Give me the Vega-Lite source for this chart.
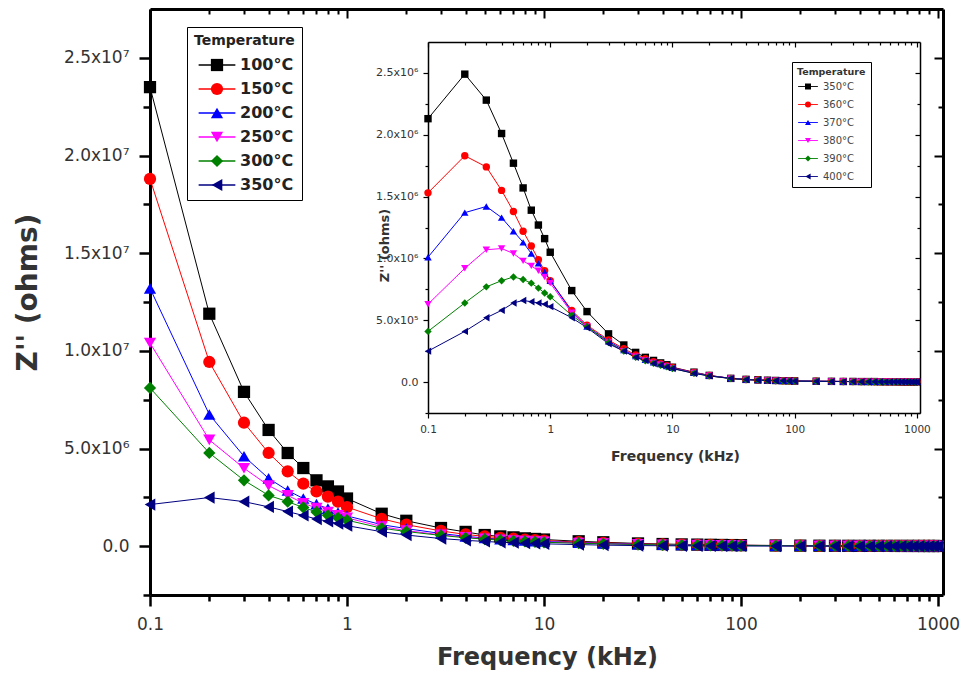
{
"$schema": "https://vega.github.io/schema/vega-lite/v6.json",
"width": 793, "height": 586,
"autosize": {"type": "none"},
"padding": {"left": 150, "top": 9, "right": 20, "bottom": 82},
"background": "white",
"config": {"view": {"stroke": null}, "font": "DejaVu Sans",
  "axis": {"grid": false, "domainColor": "#000", "tickColor": "#000", "labelFont": "DejaVu Sans", "titleFont": "DejaVu Sans", "labelColor": "#333", "titleColor": "#333", "labelOverlap": false, "labelFlush": false}},
"datasets": {
"m": [
{"t":"100°C","f":0.1,"z":23500000},{"t":"100°C","f":0.2,"z":11900000},{"t":"100°C","f":0.3,"z":7900000},{"t":"100°C","f":0.4,"z":5950000},{"t":"100°C","f":0.5,"z":4770000},{"t":"100°C","f":0.6,"z":4000000},{"t":"100°C","f":0.7,"z":3370000},{"t":"100°C","f":0.8,"z":3060000},{"t":"100°C","f":0.9,"z":2800000},{"t":"100°C","f":1,"z":2440000},
{"t":"100°C","f":1.5,"z":1660000},{"t":"100°C","f":2,"z":1300000},{"t":"100°C","f":3,"z":930000},{"t":"100°C","f":4,"z":730000},{"t":"100°C","f":5,"z":570000},{"t":"100°C","f":6,"z":500000},{"t":"100°C","f":7,"z":450000},{"t":"100°C","f":8,"z":400000},{"t":"100°C","f":9,"z":370000},{"t":"100°C","f":10,"z":340000},
{"t":"100°C","f":15,"z":250000},{"t":"100°C","f":20,"z":200000},{"t":"100°C","f":30,"z":140000},{"t":"100°C","f":40,"z":110000},{"t":"100°C","f":50,"z":90000},{"t":"100°C","f":60,"z":80000},{"t":"100°C","f":70,"z":70000},{"t":"100°C","f":80,"z":62000},{"t":"100°C","f":90,"z":56000},{"t":"100°C","f":100,"z":50000},
{"t":"100°C","f":150,"z":35000},{"t":"100°C","f":200,"z":28000},{"t":"100°C","f":250,"z":24000},{"t":"100°C","f":300,"z":21000},{"t":"100°C","f":350,"z":19000},{"t":"100°C","f":400,"z":17000},{"t":"100°C","f":450,"z":16000},{"t":"100°C","f":500,"z":15000},{"t":"100°C","f":550,"z":14000},{"t":"100°C","f":600,"z":13000},{"t":"100°C","f":650,"z":12000},{"t":"100°C","f":700,"z":12000},{"t":"100°C","f":750,"z":11000},{"t":"100°C","f":800,"z":11000},{"t":"100°C","f":850,"z":10000},{"t":"100°C","f":900,"z":10000},{"t":"100°C","f":950,"z":10000},{"t":"100°C","f":1000,"z":9000},
{"t":"150°C","f":0.1,"z":18800000},{"t":"150°C","f":0.2,"z":9430000},{"t":"150°C","f":0.3,"z":6320000},{"t":"150°C","f":0.4,"z":4770000},{"t":"150°C","f":0.5,"z":3830000},{"t":"150°C","f":0.6,"z":3200000},{"t":"150°C","f":0.7,"z":2800000},{"t":"150°C","f":0.8,"z":2540000},{"t":"150°C","f":0.9,"z":2280000},{"t":"150°C","f":1,"z":2000000},
{"t":"150°C","f":1.5,"z":1400000},{"t":"150°C","f":2,"z":1100000},{"t":"150°C","f":3,"z":780000},{"t":"150°C","f":4,"z":600000},{"t":"150°C","f":5,"z":500000},{"t":"150°C","f":6,"z":430000},{"t":"150°C","f":7,"z":380000},{"t":"150°C","f":8,"z":340000},{"t":"150°C","f":9,"z":310000},{"t":"150°C","f":10,"z":290000},
{"t":"150°C","f":15,"z":210000},{"t":"150°C","f":20,"z":170000},{"t":"150°C","f":30,"z":120000},{"t":"150°C","f":40,"z":95000},{"t":"150°C","f":50,"z":80000},{"t":"150°C","f":60,"z":70000},{"t":"150°C","f":70,"z":62000},{"t":"150°C","f":80,"z":55000},{"t":"150°C","f":90,"z":50000},{"t":"150°C","f":100,"z":45000},
{"t":"150°C","f":150,"z":32000},{"t":"150°C","f":200,"z":25000},{"t":"150°C","f":250,"z":21000},{"t":"150°C","f":300,"z":19000},{"t":"150°C","f":350,"z":17000},{"t":"150°C","f":400,"z":15000},{"t":"150°C","f":450,"z":14000},{"t":"150°C","f":500,"z":13000},{"t":"150°C","f":550,"z":12000},{"t":"150°C","f":600,"z":12000},{"t":"150°C","f":650,"z":11000},{"t":"150°C","f":700,"z":11000},{"t":"150°C","f":750,"z":10000},{"t":"150°C","f":800,"z":10000},{"t":"150°C","f":850,"z":9000},{"t":"150°C","f":900,"z":9000},{"t":"150°C","f":950,"z":9000},{"t":"150°C","f":1000,"z":8000},
{"t":"200°C","f":0.1,"z":13200000},{"t":"200°C","f":0.2,"z":6740000},{"t":"200°C","f":0.3,"z":4600000},{"t":"200°C","f":0.4,"z":3470000},{"t":"200°C","f":0.5,"z":2850000},{"t":"200°C","f":0.6,"z":2440000},{"t":"200°C","f":0.7,"z":2150000},{"t":"200°C","f":0.8,"z":1920000},{"t":"200°C","f":0.9,"z":1720000},{"t":"200°C","f":1,"z":1550000},
{"t":"200°C","f":1.5,"z":1100000},{"t":"200°C","f":2,"z":900000},{"t":"200°C","f":3,"z":650000},{"t":"200°C","f":4,"z":500000},{"t":"200°C","f":5,"z":420000},{"t":"200°C","f":6,"z":360000},{"t":"200°C","f":7,"z":320000},{"t":"200°C","f":8,"z":290000},{"t":"200°C","f":9,"z":260000},{"t":"200°C","f":10,"z":240000},
{"t":"200°C","f":15,"z":180000},{"t":"200°C","f":20,"z":140000},{"t":"200°C","f":30,"z":100000},{"t":"200°C","f":40,"z":80000},{"t":"200°C","f":50,"z":68000},{"t":"200°C","f":60,"z":60000},{"t":"200°C","f":70,"z":53000},{"t":"200°C","f":80,"z":48000},{"t":"200°C","f":90,"z":44000},{"t":"200°C","f":100,"z":40000},
{"t":"200°C","f":150,"z":29000},{"t":"200°C","f":200,"z":23000},{"t":"200°C","f":250,"z":19000},{"t":"200°C","f":300,"z":17000},{"t":"200°C","f":350,"z":15000},{"t":"200°C","f":400,"z":14000},{"t":"200°C","f":450,"z":13000},{"t":"200°C","f":500,"z":12000},{"t":"200°C","f":550,"z":11000},{"t":"200°C","f":600,"z":11000},{"t":"200°C","f":650,"z":10000},{"t":"200°C","f":700,"z":10000},{"t":"200°C","f":750,"z":9000},{"t":"200°C","f":800,"z":9000},{"t":"200°C","f":850,"z":9000},{"t":"200°C","f":900,"z":8000},{"t":"200°C","f":950,"z":8000},{"t":"200°C","f":1000,"z":8000},
{"t":"250°C","f":0.1,"z":10400000},{"t":"250°C","f":0.2,"z":5440000},{"t":"250°C","f":0.3,"z":3990000},{"t":"250°C","f":0.4,"z":3100000},{"t":"250°C","f":0.5,"z":2600000},{"t":"250°C","f":0.6,"z":2200000},{"t":"250°C","f":0.7,"z":1950000},{"t":"250°C","f":0.8,"z":1750000},{"t":"250°C","f":0.9,"z":1580000},{"t":"250°C","f":1,"z":1450000},
{"t":"250°C","f":1.5,"z":1000000},{"t":"250°C","f":2,"z":800000},{"t":"250°C","f":3,"z":580000},{"t":"250°C","f":4,"z":460000},{"t":"250°C","f":5,"z":380000},{"t":"250°C","f":6,"z":330000},{"t":"250°C","f":7,"z":290000},{"t":"250°C","f":8,"z":260000},{"t":"250°C","f":9,"z":240000},{"t":"250°C","f":10,"z":220000},
{"t":"250°C","f":15,"z":160000},{"t":"250°C","f":20,"z":130000},{"t":"250°C","f":30,"z":90000},{"t":"250°C","f":40,"z":72000},{"t":"250°C","f":50,"z":60000},{"t":"250°C","f":60,"z":53000},{"t":"250°C","f":70,"z":47000},{"t":"250°C","f":80,"z":43000},{"t":"250°C","f":90,"z":39000},{"t":"250°C","f":100,"z":36000},
{"t":"250°C","f":150,"z":26000},{"t":"250°C","f":200,"z":21000},{"t":"250°C","f":250,"z":18000},{"t":"250°C","f":300,"z":16000},{"t":"250°C","f":350,"z":14000},{"t":"250°C","f":400,"z":13000},{"t":"250°C","f":450,"z":12000},{"t":"250°C","f":500,"z":11000},{"t":"250°C","f":550,"z":11000},{"t":"250°C","f":600,"z":10000},{"t":"250°C","f":650,"z":10000},{"t":"250°C","f":700,"z":9000},{"t":"250°C","f":750,"z":9000},{"t":"250°C","f":800,"z":9000},{"t":"250°C","f":850,"z":8000},{"t":"250°C","f":900,"z":8000},{"t":"250°C","f":950,"z":8000},{"t":"250°C","f":1000,"z":7000},
{"t":"300°C","f":0.1,"z":8100000},{"t":"300°C","f":0.2,"z":4770000},{"t":"300°C","f":0.3,"z":3370000},{"t":"300°C","f":0.4,"z":2600000},{"t":"300°C","f":0.5,"z":2280000},{"t":"300°C","f":0.6,"z":1980000},{"t":"300°C","f":0.7,"z":1750000},{"t":"300°C","f":0.8,"z":1580000},{"t":"300°C","f":0.9,"z":1450000},{"t":"300°C","f":1,"z":1330000},
{"t":"300°C","f":1.5,"z":920000},{"t":"300°C","f":2,"z":750000},{"t":"300°C","f":3,"z":550000},{"t":"300°C","f":4,"z":430000},{"t":"300°C","f":5,"z":360000},{"t":"300°C","f":6,"z":310000},{"t":"300°C","f":7,"z":270000},{"t":"300°C","f":8,"z":240000},{"t":"300°C","f":9,"z":220000},{"t":"300°C","f":10,"z":200000},
{"t":"300°C","f":15,"z":150000},{"t":"300°C","f":20,"z":120000},{"t":"300°C","f":30,"z":85000},{"t":"300°C","f":40,"z":68000},{"t":"300°C","f":50,"z":57000},{"t":"300°C","f":60,"z":50000},{"t":"300°C","f":70,"z":45000},{"t":"300°C","f":80,"z":41000},{"t":"300°C","f":90,"z":37000},{"t":"300°C","f":100,"z":34000},
{"t":"300°C","f":150,"z":25000},{"t":"300°C","f":200,"z":20000},{"t":"300°C","f":250,"z":17000},{"t":"300°C","f":300,"z":15000},{"t":"300°C","f":350,"z":14000},{"t":"300°C","f":400,"z":13000},{"t":"300°C","f":450,"z":12000},{"t":"300°C","f":500,"z":11000},{"t":"300°C","f":550,"z":10000},{"t":"300°C","f":600,"z":10000},{"t":"300°C","f":650,"z":9000},{"t":"300°C","f":700,"z":9000},{"t":"300°C","f":750,"z":9000},{"t":"300°C","f":800,"z":8000},{"t":"300°C","f":850,"z":8000},{"t":"300°C","f":900,"z":8000},{"t":"300°C","f":950,"z":7000},{"t":"300°C","f":1000,"z":7000},
{"t":"350°C","f":0.1,"z":2130000},{"t":"350°C","f":0.2,"z":2490000},{"t":"350°C","f":0.3,"z":2280000},{"t":"350°C","f":0.4,"z":2010000},{"t":"350°C","f":0.5,"z":1770000},{"t":"350°C","f":0.6,"z":1570000},{"t":"350°C","f":0.7,"z":1390000},{"t":"350°C","f":0.8,"z":1270000},{"t":"350°C","f":0.9,"z":1160000},{"t":"350°C","f":1,"z":1050000},
{"t":"350°C","f":1.5,"z":740000},{"t":"350°C","f":2,"z":570000},{"t":"350°C","f":3,"z":390000},{"t":"350°C","f":4,"z":300000},{"t":"350°C","f":5,"z":240000},{"t":"350°C","f":6,"z":200000},{"t":"350°C","f":7,"z":175000},{"t":"350°C","f":8,"z":155000},{"t":"350°C","f":9,"z":140000},{"t":"350°C","f":10,"z":120000},
{"t":"350°C","f":15,"z":80000},{"t":"350°C","f":20,"z":54000},{"t":"350°C","f":30,"z":30000},{"t":"350°C","f":40,"z":22000},{"t":"350°C","f":50,"z":18000},{"t":"350°C","f":60,"z":15000},{"t":"350°C","f":70,"z":13000},{"t":"350°C","f":80,"z":11000},{"t":"350°C","f":90,"z":10000},{"t":"350°C","f":100,"z":9000},
{"t":"350°C","f":150,"z":7000},{"t":"350°C","f":200,"z":6000},{"t":"350°C","f":250,"z":5000},{"t":"350°C","f":300,"z":5000},{"t":"350°C","f":350,"z":4000},{"t":"350°C","f":400,"z":4000},{"t":"350°C","f":450,"z":4000},{"t":"350°C","f":500,"z":3000},{"t":"350°C","f":550,"z":3000},{"t":"350°C","f":600,"z":3000},{"t":"350°C","f":650,"z":3000},{"t":"350°C","f":700,"z":3000},{"t":"350°C","f":750,"z":2000},{"t":"350°C","f":800,"z":2000},{"t":"350°C","f":850,"z":2000},{"t":"350°C","f":900,"z":2000},{"t":"350°C","f":950,"z":2000},{"t":"350°C","f":1000,"z":2000}
],
"n": [
{"t":"350°C","f":0.1,"z":2130000},{"t":"350°C","f":0.2,"z":2490000},{"t":"350°C","f":0.3,"z":2280000},{"t":"350°C","f":0.4,"z":2010000},{"t":"350°C","f":0.5,"z":1770000},{"t":"350°C","f":0.6,"z":1570000},{"t":"350°C","f":0.7,"z":1390000},{"t":"350°C","f":0.8,"z":1270000},{"t":"350°C","f":0.9,"z":1160000},{"t":"350°C","f":1,"z":1050000},
{"t":"350°C","f":1.5,"z":740000},{"t":"350°C","f":2,"z":570000},{"t":"350°C","f":3,"z":390000},{"t":"350°C","f":4,"z":300000},{"t":"350°C","f":5,"z":240000},{"t":"350°C","f":6,"z":200000},{"t":"350°C","f":7,"z":175000},{"t":"350°C","f":8,"z":155000},{"t":"350°C","f":9,"z":140000},{"t":"350°C","f":10,"z":120000},
{"t":"350°C","f":15,"z":80000},{"t":"350°C","f":20,"z":54000},{"t":"350°C","f":30,"z":30000},{"t":"350°C","f":40,"z":22000},{"t":"350°C","f":50,"z":18000},{"t":"350°C","f":60,"z":15000},{"t":"350°C","f":70,"z":13000},{"t":"350°C","f":80,"z":11000},{"t":"350°C","f":90,"z":10000},{"t":"350°C","f":100,"z":9000},
{"t":"350°C","f":150,"z":7000},{"t":"350°C","f":200,"z":6000},{"t":"350°C","f":250,"z":5000},{"t":"350°C","f":300,"z":5000},{"t":"350°C","f":350,"z":4000},{"t":"350°C","f":400,"z":4000},{"t":"350°C","f":450,"z":4000},{"t":"350°C","f":500,"z":3000},{"t":"350°C","f":550,"z":3000},{"t":"350°C","f":600,"z":3000},{"t":"350°C","f":650,"z":3000},{"t":"350°C","f":700,"z":3000},{"t":"350°C","f":750,"z":2000},{"t":"350°C","f":800,"z":2000},{"t":"350°C","f":850,"z":2000},{"t":"350°C","f":900,"z":2000},{"t":"350°C","f":950,"z":2000},{"t":"350°C","f":1000,"z":2000},
{"t":"360°C","f":0.1,"z":1530000},{"t":"360°C","f":0.2,"z":1830000},{"t":"360°C","f":0.3,"z":1740000},{"t":"360°C","f":0.4,"z":1550000},{"t":"360°C","f":0.5,"z":1380000},{"t":"360°C","f":0.6,"z":1220000},{"t":"360°C","f":0.7,"z":1100000},{"t":"360°C","f":0.8,"z":990000},{"t":"360°C","f":0.9,"z":900000},{"t":"360°C","f":1,"z":820000},
{"t":"360°C","f":1.5,"z":580000},{"t":"360°C","f":2,"z":460000},{"t":"360°C","f":3,"z":340000},{"t":"360°C","f":4,"z":270000},{"t":"360°C","f":5,"z":220000},{"t":"360°C","f":6,"z":190000},{"t":"360°C","f":7,"z":165000},{"t":"360°C","f":8,"z":148000},{"t":"360°C","f":9,"z":133000},{"t":"360°C","f":10,"z":118000},
{"t":"360°C","f":15,"z":78000},{"t":"360°C","f":20,"z":53000},{"t":"360°C","f":30,"z":30000},{"t":"360°C","f":40,"z":21000},{"t":"360°C","f":50,"z":17000},{"t":"360°C","f":60,"z":14000},{"t":"360°C","f":70,"z":12000},{"t":"360°C","f":80,"z":11000},{"t":"360°C","f":90,"z":10000},{"t":"360°C","f":100,"z":9000},
{"t":"360°C","f":150,"z":7000},{"t":"360°C","f":200,"z":6000},{"t":"360°C","f":250,"z":5000},{"t":"360°C","f":300,"z":4000},{"t":"360°C","f":350,"z":4000},{"t":"360°C","f":400,"z":4000},{"t":"360°C","f":450,"z":3000},{"t":"360°C","f":500,"z":3000},{"t":"360°C","f":550,"z":3000},{"t":"360°C","f":600,"z":3000},{"t":"360°C","f":650,"z":3000},{"t":"360°C","f":700,"z":2000},{"t":"360°C","f":750,"z":2000},{"t":"360°C","f":800,"z":2000},{"t":"360°C","f":850,"z":2000},{"t":"360°C","f":900,"z":2000},{"t":"360°C","f":950,"z":2000},{"t":"360°C","f":1000,"z":2000},
{"t":"370°C","f":0.1,"z":1010000},{"t":"370°C","f":0.2,"z":1370000},{"t":"370°C","f":0.3,"z":1420000},{"t":"370°C","f":0.4,"z":1330000},{"t":"370°C","f":0.5,"z":1220000},{"t":"370°C","f":0.6,"z":1130000},{"t":"370°C","f":0.7,"z":1040000},{"t":"370°C","f":0.8,"z":960000},{"t":"370°C","f":0.9,"z":890000},{"t":"370°C","f":1,"z":820000},
{"t":"370°C","f":1.5,"z":570000},{"t":"370°C","f":2,"z":450000},{"t":"370°C","f":3,"z":330000},{"t":"370°C","f":4,"z":260000},{"t":"370°C","f":5,"z":210000},{"t":"370°C","f":6,"z":180000},{"t":"370°C","f":7,"z":160000},{"t":"370°C","f":8,"z":145000},{"t":"370°C","f":9,"z":130000},{"t":"370°C","f":10,"z":115000},
{"t":"370°C","f":15,"z":76000},{"t":"370°C","f":20,"z":52000},{"t":"370°C","f":30,"z":30000},{"t":"370°C","f":40,"z":21000},{"t":"370°C","f":50,"z":17000},{"t":"370°C","f":60,"z":14000},{"t":"370°C","f":70,"z":12000},{"t":"370°C","f":80,"z":11000},{"t":"370°C","f":90,"z":10000},{"t":"370°C","f":100,"z":9000},
{"t":"370°C","f":150,"z":7000},{"t":"370°C","f":200,"z":6000},{"t":"370°C","f":250,"z":5000},{"t":"370°C","f":300,"z":4000},{"t":"370°C","f":350,"z":4000},{"t":"370°C","f":400,"z":3000},{"t":"370°C","f":450,"z":3000},{"t":"370°C","f":500,"z":3000},{"t":"370°C","f":550,"z":3000},{"t":"370°C","f":600,"z":3000},{"t":"370°C","f":650,"z":2000},{"t":"370°C","f":700,"z":2000},{"t":"370°C","f":750,"z":2000},{"t":"370°C","f":800,"z":2000},{"t":"370°C","f":850,"z":2000},{"t":"370°C","f":900,"z":2000},{"t":"370°C","f":950,"z":2000},{"t":"370°C","f":1000,"z":2000},
{"t":"380°C","f":0.1,"z":630000},{"t":"380°C","f":0.2,"z":920000},{"t":"380°C","f":0.3,"z":1070000},{"t":"380°C","f":0.4,"z":1080000},{"t":"380°C","f":0.5,"z":1040000},{"t":"380°C","f":0.6,"z":980000},{"t":"380°C","f":0.7,"z":940000},{"t":"380°C","f":0.8,"z":900000},{"t":"380°C","f":0.9,"z":850000},{"t":"380°C","f":1,"z":800000},
{"t":"380°C","f":1.5,"z":560000},{"t":"380°C","f":2,"z":450000},{"t":"380°C","f":3,"z":320000},{"t":"380°C","f":4,"z":250000},{"t":"380°C","f":5,"z":205000},{"t":"380°C","f":6,"z":175000},{"t":"380°C","f":7,"z":155000},{"t":"380°C","f":8,"z":140000},{"t":"380°C","f":9,"z":127000},{"t":"380°C","f":10,"z":112000},
{"t":"380°C","f":15,"z":74000},{"t":"380°C","f":20,"z":51000},{"t":"380°C","f":30,"z":29000},{"t":"380°C","f":40,"z":20000},{"t":"380°C","f":50,"z":16000},{"t":"380°C","f":60,"z":14000},{"t":"380°C","f":70,"z":12000},{"t":"380°C","f":80,"z":10000},{"t":"380°C","f":90,"z":9000},{"t":"380°C","f":100,"z":8000},
{"t":"380°C","f":150,"z":6000},{"t":"380°C","f":200,"z":5000},{"t":"380°C","f":250,"z":5000},{"t":"380°C","f":300,"z":4000},{"t":"380°C","f":350,"z":4000},{"t":"380°C","f":400,"z":3000},{"t":"380°C","f":450,"z":3000},{"t":"380°C","f":500,"z":3000},{"t":"380°C","f":550,"z":3000},{"t":"380°C","f":600,"z":2000},{"t":"380°C","f":650,"z":2000},{"t":"380°C","f":700,"z":2000},{"t":"380°C","f":750,"z":2000},{"t":"380°C","f":800,"z":2000},{"t":"380°C","f":850,"z":2000},{"t":"380°C","f":900,"z":2000},{"t":"380°C","f":950,"z":2000},{"t":"380°C","f":1000,"z":1000},
{"t":"390°C","f":0.1,"z":410000},{"t":"390°C","f":0.2,"z":640000},{"t":"390°C","f":0.3,"z":770000},{"t":"390°C","f":0.4,"z":820000},{"t":"390°C","f":0.5,"z":850000},{"t":"390°C","f":0.6,"z":830000},{"t":"390°C","f":0.7,"z":800000},{"t":"390°C","f":0.8,"z":760000},{"t":"390°C","f":0.9,"z":720000},{"t":"390°C","f":1,"z":690000},
{"t":"390°C","f":1.5,"z":540000},{"t":"390°C","f":2,"z":450000},{"t":"390°C","f":3,"z":320000},{"t":"390°C","f":4,"z":250000},{"t":"390°C","f":5,"z":200000},{"t":"390°C","f":6,"z":172000},{"t":"390°C","f":7,"z":152000},{"t":"390°C","f":8,"z":136000},{"t":"390°C","f":9,"z":123000},{"t":"390°C","f":10,"z":110000},
{"t":"390°C","f":15,"z":72000},{"t":"390°C","f":20,"z":50000},{"t":"390°C","f":30,"z":28000},{"t":"390°C","f":40,"z":20000},{"t":"390°C","f":50,"z":16000},{"t":"390°C","f":60,"z":13000},{"t":"390°C","f":70,"z":11000},{"t":"390°C","f":80,"z":10000},{"t":"390°C","f":90,"z":9000},{"t":"390°C","f":100,"z":8000},
{"t":"390°C","f":150,"z":6000},{"t":"390°C","f":200,"z":5000},{"t":"390°C","f":250,"z":4000},{"t":"390°C","f":300,"z":4000},{"t":"390°C","f":350,"z":3000},{"t":"390°C","f":400,"z":3000},{"t":"390°C","f":450,"z":3000},{"t":"390°C","f":500,"z":3000},{"t":"390°C","f":550,"z":2000},{"t":"390°C","f":600,"z":2000},{"t":"390°C","f":650,"z":2000},{"t":"390°C","f":700,"z":2000},{"t":"390°C","f":750,"z":2000},{"t":"390°C","f":800,"z":2000},{"t":"390°C","f":850,"z":2000},{"t":"390°C","f":900,"z":1000},{"t":"390°C","f":950,"z":1000},{"t":"390°C","f":1000,"z":1000},
{"t":"400°C","f":0.1,"z":250000},{"t":"400°C","f":0.2,"z":410000},{"t":"400°C","f":0.3,"z":520000},{"t":"400°C","f":0.4,"z":580000},{"t":"400°C","f":0.5,"z":640000},{"t":"400°C","f":0.6,"z":660000},{"t":"400°C","f":0.7,"z":650000},{"t":"400°C","f":0.8,"z":640000},{"t":"400°C","f":0.9,"z":630000},{"t":"400°C","f":1,"z":610000},
{"t":"400°C","f":1.5,"z":520000},{"t":"400°C","f":2,"z":440000},{"t":"400°C","f":3,"z":310000},{"t":"400°C","f":4,"z":250000},{"t":"400°C","f":5,"z":200000},{"t":"400°C","f":6,"z":175000},{"t":"400°C","f":7,"z":150000},{"t":"400°C","f":8,"z":137000},{"t":"400°C","f":9,"z":122000},{"t":"400°C","f":10,"z":110000},
{"t":"400°C","f":15,"z":70000},{"t":"400°C","f":20,"z":50000},{"t":"400°C","f":30,"z":30000},{"t":"400°C","f":40,"z":20000},{"t":"400°C","f":50,"z":16000},{"t":"400°C","f":60,"z":13000},{"t":"400°C","f":70,"z":11000},{"t":"400°C","f":80,"z":10000},{"t":"400°C","f":90,"z":9000},{"t":"400°C","f":100,"z":8000},
{"t":"400°C","f":150,"z":6000},{"t":"400°C","f":200,"z":5000},{"t":"400°C","f":250,"z":4000},{"t":"400°C","f":300,"z":4000},{"t":"400°C","f":350,"z":3000},{"t":"400°C","f":400,"z":3000},{"t":"400°C","f":450,"z":3000},{"t":"400°C","f":500,"z":3000},{"t":"400°C","f":550,"z":2000},{"t":"400°C","f":600,"z":2000},{"t":"400°C","f":650,"z":2000},{"t":"400°C","f":700,"z":2000},{"t":"400°C","f":750,"z":2000},{"t":"400°C","f":800,"z":2000},{"t":"400°C","f":850,"z":1000},{"t":"400°C","f":900,"z":1000},{"t":"400°C","f":950,"z":1000},{"t":"400°C","f":1000,"z":1000}
]
},
"layer": [
{
  "data": {"name": "m"},
  "mark": {"type": "line", "strokeWidth": 1},
  "encoding": {
    "x": {"field": "f", "type": "quantitative", "scale": {"type": "log", "domain": [0.1, 1060], "nice": false},
      "axis": {"orient": "bottom", "values": [0.1,0.2,0.3,0.4,0.5,0.6,0.7,0.8,0.9,1,2,3,4,5,6,7,8,9,10,20,30,40,50,60,70,80,90,100,200,300,400,500,600,700,800,900,1000],
        "labelExpr": "indexof([0.1,1,10,100,1000], datum.value) >= 0 ? format(datum.value, '~g') : ''",
        "tickSize": {"condition": {"test": "indexof([0.1,1,10,100,1000], datum.value) >= 0", "value": 11}, "value": 6},
        "tickWidth": 2.5, "domainWidth": 3, "labelFontSize": 17, "labelPadding": 10,
        "title": "Frequency (kHz)", "titleFontSize": 24, "titleFontWeight": "bold", "titleX": 397, "titleY": 50, "titleBaseline": "top"}},
    "y": {"field": "z", "type": "quantitative", "scale": {"domain": [-2500000, 27500000], "nice": false, "zero": false},
      "axis": {"orient": "left", "values": [-2500000,0,2500000,5000000,7500000,10000000,12500000,15000000,17500000,20000000,22500000,25000000],
        "labelExpr": "datum.value == 0 ? '0.0' : datum.value % 5000000 != 0 ? '' : datum.value < 10000000 ? format(datum.value/1000000, '.1f') + 'x10⁶' : format(datum.value/10000000, '.1f') + 'x10⁷'",
        "tickSize": {"condition": {"test": "datum.value % 5000000 == 0", "value": 11}, "value": 7},
        "tickWidth": 2.5, "domainWidth": 3, "labelFontSize": 17, "labelPadding": 10,
        "title": "Z'' (ohms)", "titleFontSize": 28, "titleFontWeight": "bold", "titleX": -108, "titleY": 283}},
    "color": {"field": "t", "type": "nominal", "scale": {"domain": ["100°C","150°C","200°C","250°C","300°C","350°C"], "range": ["#000000","#FF0000","#0000FF","#FF00FF","#008000","#000080"]},
      "legend": {"title": "Temperature", "orient": "none", "legendX": 37, "legendY": 18, "direction": "vertical",
        "titleFontSize": 14, "titleFontWeight": "bold", "titleColor": "#222", "titlePadding": 9,
        "labelFontSize": 16, "labelFontWeight": "bold", "labelColor": "#222",
        "symbolType": "M-3,0H3", "symbolSize": 150, "symbolStrokeWidth": 1.3, "symbolOffset": 15, "labelOffset": 15, "rowPadding": 8, "padding": 7,
        "fillColor": "white", "strokeColor": "#000"}}
  }
},
{
  "data": {"name": "m"},
  "mark": {"type": "point", "filled": true, "opacity": 1, "size": 150, "strokeWidth": 0},
  "encoding": {
    "x": {"field": "f", "type": "quantitative", "scale": {"type": "log", "domain": [0.1, 1060], "nice": false},
      "axis": {"orient": "top", "values": [0.1,0.2,0.3,0.4,0.5,0.6,0.7,0.8,0.9,1,2,3,4,5,6,7,8,9,10,20,30,40,50,60,70,80,90,100,200,300,400,500,600,700,800,900,1000],
        "labels": false, "title": null, "tickSize": {"condition": {"test": "indexof([0.1,1,10,100,1000], datum.value) >= 0", "value": -9}, "value": -5}, "tickWidth": 2, "domainWidth": 3}},
    "y": {"field": "z", "type": "quantitative", "scale": {"domain": [-2500000, 27500000], "nice": false, "zero": false},
      "axis": {"orient": "right", "values": [2500000,5000000,7500000,10000000,12500000,15000000,17500000,20000000,22500000,25000000],
        "labels": false, "title": null, "tickSize": {"condition": {"test": "datum.value % 5000000 == 0", "value": -9}, "value": -5}, "tickWidth": 2, "domainWidth": 3}},
    "color": {"field": "t", "type": "nominal", "scale": {"domain": ["100°C","150°C","200°C","250°C","300°C","350°C"], "range": ["#000000","#FF0000","#0000FF","#FF00FF","#008000","#000080"]},
      "legend": {"title": "Temperature", "orient": "none", "legendX": 37, "legendY": 18, "direction": "vertical",
        "titleFontSize": 14, "titleFontWeight": "bold", "titleColor": "transparent", "titlePadding": 9,
        "labelFontSize": 16, "labelFontWeight": "bold", "labelColor": "transparent",
        "symbolSize": 150, "symbolOffset": 15, "labelOffset": 15, "rowPadding": 8, "padding": 7, "symbolOpacity": 1}},
    "shape": {"field": "t", "type": "nominal", "scale": {"domain": ["100°C","150°C","200°C","250°C","300°C","350°C"], "range": ["square","circle","triangle-up","triangle-down","diamond","triangle-left"]}, "legend": null}
  }
},
{
  "data": {"name": "n"},
  "mark": {"type": "line", "strokeWidth": 1},
  "encoding": {
    "x": {"field": "f", "type": "quantitative", "scale": {"type": "log", "domain": [0.1, 1060], "nice": false, "range": [278, 770]},
      "axis": {"orient": "bottom", "offset": -182, "values": [0.1,0.2,0.3,0.4,0.5,0.6,0.7,0.8,0.9,1,2,3,4,5,6,7,8,9,10,20,30,40,50,60,70,80,90,100,200,300,400,500,600,700,800,900,1000],
        "labelExpr": "indexof([0.1,1,10,100,1000], datum.value) >= 0 ? format(datum.value, '~g') : ''",
        "tickSize": {"condition": {"test": "indexof([0.1,1,10,100,1000], datum.value) >= 0", "value": 5}, "value": 3},
        "tickWidth": 1.2, "domainWidth": 1.5, "labelFontSize": 10.5, "labelPadding": 6,
        "title": "Frequency (kHz)", "titleFontSize": 14, "titleFontWeight": "bold", "titleX": 525, "titleY": 36, "titleBaseline": "top"}},
    "y": {"field": "z", "type": "quantitative", "scale": {"domain": [-250000, 2750000], "nice": false, "zero": false, "range": [404, 33]},
      "axis": {"orient": "left", "offset": -278, "values": [-250000,0,250000,500000,750000,1000000,1250000,1500000,1750000,2000000,2250000,2500000],
        "labelExpr": "datum.value == 0 ? '0.0' : datum.value % 500000 != 0 ? '' : datum.value < 1000000 ? format(datum.value/100000, '.1f') + 'x10⁵' : format(datum.value/1000000, '.1f') + 'x10⁶'",
        "tickSize": {"condition": {"test": "datum.value % 500000 == 0", "value": 5}, "value": 3},
        "tickWidth": 1.2, "domainWidth": 1.5, "labelFontSize": 11, "labelPadding": 5,
        "title": "Z'' (ohms)", "titleFontSize": 13, "titleFontWeight": "bold", "titleX": -37, "titleY": 236}},
    "color": {"field": "t", "type": "nominal", "scale": {"domain": ["350°C","360°C","370°C","380°C","390°C","400°C"], "range": ["#000000","#FF0000","#0000FF","#FF00FF","#008000","#000080"]},
      "legend": {"title": "Temperature", "orient": "none", "legendX": 642, "legendY": 53, "direction": "vertical",
        "titleFontSize": 9.5, "titleFontWeight": "bold", "titleColor": "#333", "titlePadding": 5,
        "labelFontSize": 10, "labelColor": "#444",
        "symbolType": "M-3.3,0H3.3", "symbolSize": 36, "symbolStrokeWidth": 0.9, "symbolOffset": 6, "labelOffset": 10, "rowPadding": 8, "padding": 5,
        "fillColor": "white", "strokeColor": "#000"}}
  }
},
{
  "data": {"name": "n"},
  "mark": {"type": "point", "filled": true, "opacity": 1, "size": 55, "strokeWidth": 0},
  "encoding": {
    "x": {"field": "f", "type": "quantitative", "scale": {"type": "log", "domain": [0.1, 1060], "nice": false, "range": [278, 770]},
      "axis": {"orient": "top", "offset": -33, "values": [0.1,0.2,0.3,0.4,0.5,0.6,0.7,0.8,0.9,1,2,3,4,5,6,7,8,9,10,20,30,40,50,60,70,80,90,100,200,300,400,500,600,700,800,900,1000],
        "labels": false, "title": null, "tickSize": {"condition": {"test": "indexof([0.1,1,10,100,1000], datum.value) >= 0", "value": -5}, "value": -3}, "tickWidth": 1.2, "domainWidth": 1.5}},
    "y": {"field": "z", "type": "quantitative", "scale": {"domain": [-250000, 2750000], "nice": false, "zero": false, "range": [404, 33]},
      "axis": {"orient": "right", "offset": -23, "values": [-250000,0,250000,500000,750000,1000000,1250000,1500000,1750000,2000000,2250000,2500000],
        "labels": false, "title": null, "tickSize": {"condition": {"test": "datum.value % 500000 == 0", "value": -5}, "value": -3}, "tickWidth": 1.2, "domainWidth": 1.5}},
    "color": {"field": "t", "type": "nominal", "scale": {"domain": ["350°C","360°C","370°C","380°C","390°C","400°C"], "range": ["#000000","#FF0000","#0000FF","#FF00FF","#008000","#000080"]},
      "legend": {"title": "Temperature", "orient": "none", "legendX": 642, "legendY": 53, "direction": "vertical",
        "titleFontSize": 9.5, "titleFontWeight": "bold", "titleColor": "transparent", "titlePadding": 5,
        "labelFontSize": 10, "labelColor": "transparent",
        "symbolSize": 36, "symbolOffset": 6, "labelOffset": 10, "rowPadding": 8, "padding": 5, "symbolOpacity": 1}},
    "shape": {"field": "t", "type": "nominal", "scale": {"domain": ["350°C","360°C","370°C","380°C","390°C","400°C"], "range": ["square","circle","triangle-up","triangle-down","diamond","triangle-left"]}, "legend": null}
  }
}
],
"resolve": {"scale": {"x": "independent", "y": "independent", "color": "independent", "shape": "independent"}, "axis": {"x": "independent", "y": "independent"}, "legend": {"color": "independent", "shape": "independent"}}
}
